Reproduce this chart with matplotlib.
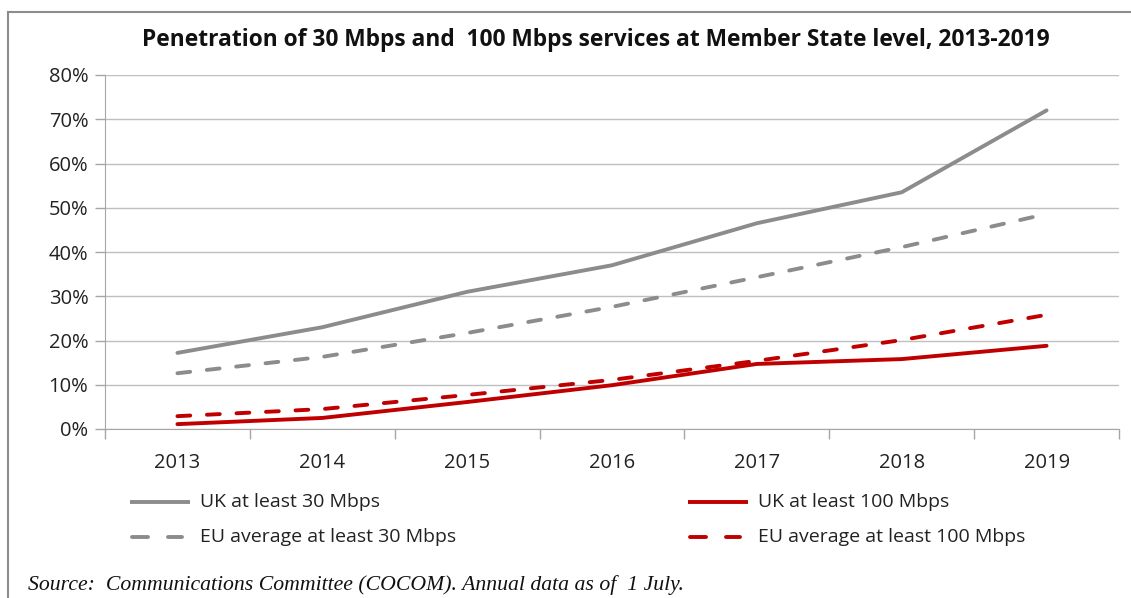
import matplotlib
matplotlib.use("Agg")
import matplotlib.pyplot as plt
from matplotlib.lines import Line2D
from matplotlib import font_manager

years = ["2013", "2014", "2015", "2016", "2017", "2018", "2019"]
uk_30 = [17.2, 23.0, 31.0, 37.0, 46.5, 53.5, 72.0]
eu_30 = [12.6, 16.3, 21.7, 27.6, 34.3, 41.1, 48.6]
uk_100 = [1.1, 2.5, 6.1, 9.9, 14.7, 15.8, 18.8]
eu_100 = [2.9, 4.5, 7.7, 11.1, 15.4, 20.1, 25.8]
y_ticks = [0, 10, 20, 30, 40, 50, 60, 70, 80]
title = "Penetration of 30 Mbps and  100 Mbps services at Member State level, 2013-2019"
source = "Source:  Communications Committee (COCOM). Annual data as of  1 July."
labels = ["UK at least 30 Mbps", "UK at least 100 Mbps",
          "EU average at least 30 Mbps", "EU average at least 100 Mbps"]

names = {f.name for f in font_manager.fontManager.ttflist}
main = "Open Sans" if "Open Sans" in names else "DejaVu Sans"

GRAY = "#8c8c8c"
RED = "#c00000"

fig = plt.figure(figsize=(11.31, 5.98), dpi=100)
ax = fig.add_axes([105/1131, 1-429/598, (1119-105)/1131, (429-75)/598])

x = list(range(len(years)))
lw = 2.8
DASH = (3.3, 4.3)
ax.plot(x, uk_30, color=GRAY, lw=lw, solid_capstyle="round")
ax.plot(x, eu_30, color=GRAY, lw=lw, dashes=DASH, dash_capstyle="round")
ax.plot(x, uk_100, color=RED, lw=lw, solid_capstyle="round")
ax.plot(x, eu_100, color=RED, lw=lw, dashes=DASH, dash_capstyle="round")

ax.set_xlim(-0.5, len(years) - 0.5)
ax.set_ylim(0, 80)
ax.set_yticks(y_ticks)
ax.set_yticklabels([f"{v}%" for v in y_ticks], fontfamily=main, fontsize=14.5, color="#222222")
ax.set_xticks([i + 0.5 for i in range(-1, len(years))])
ax.set_xticklabels([])
ax.set_xticks(x, minor=True)
ax.set_xticklabels(years, minor=True, fontfamily=main, fontsize=14.5, color="#222222")
ax.tick_params(axis="x", which="minor", length=0, pad=17)
ax.tick_params(axis="x", which="major", length=7, color="#a6a6a6", width=1)
ax.tick_params(axis="y", length=7, color="#a6a6a6", width=1, pad=5)
ax.grid(axis="y", color="#bfbfbf", lw=1)
ax.set_axisbelow(True)
for s in ["top", "right"]:
    ax.spines[s].set_visible(False)
for s in ["left", "bottom"]:
    ax.spines[s].set_color("#a6a6a6")

fig.text(596/1131, 1-40/598, title, ha="center", va="center", fontsize=16.4,
         fontweight="bold", fontfamily=main, color="#111111")

colors = [GRAY, RED, GRAY, RED]
for i, (c, lab) in enumerate(zip(colors, labels)):
    col = i % 2
    row = i // 2
    x0 = [130, 688][col]
    yy = 1 - [502, 537][row] / 598
    if row == 0:
        segs = [(x0, x0 + 60)]
        cap = "butt"
    else:
        segs = [(x0 + 2, x0 + 18), (x0 + 38, x0 + 52)]
        cap = "round"
    for a, b in segs:
        fig.add_artist(Line2D([a/1131, b/1131], [yy, yy], transform=fig.transFigure,
                              color=c, lw=lw, solid_capstyle=cap))
    fig.text((x0+70)/1131, yy, lab, ha="left", va="center", fontsize=14,
             fontfamily=main, color="#222222")

fig.text(28/1131, 1-585/598, source, ha="left", va="center", fontsize=15.7,
         fontfamily="Liberation Serif", style="italic", color="#111111")

# outer frame
fig.add_artist(Line2D([8/1131, 1], [1-12/598, 1-12/598], transform=fig.transFigure, color="#8c8c8c", lw=1.5))
fig.add_artist(Line2D([8/1131, 8/1131], [1-12/598, 0], transform=fig.transFigure, color="#8c8c8c", lw=1.5))

fig.savefig("out.png", dpi=100)
